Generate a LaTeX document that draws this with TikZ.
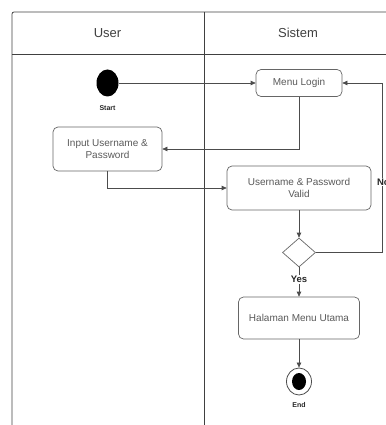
\documentclass[tikz,border=0pt]{standalone}
\usepackage{fontspec}
\setmainfont{Liberation Sans}
\usetikzlibrary{arrows.meta,shapes.geometric}
\begin{document}
\begin{tikzpicture}[x=1pt,y=-1pt,
  lane/.style={draw=black!75, line width=0.8pt},
  head/.style={font=\fontsize{13}{15}\selectfont, text=black!75},
  act/.style={draw=black!60, rounded corners=5pt, line width=0.7pt, align=center,
    font=\fontsize{10}{12.5}\selectfont, text=black!65, inner sep=0pt},
  flow/.style={draw=black!70, line width=0.7pt, -{Triangle[length=5pt,width=4.5pt]}},
  tag/.style={font=\bfseries\fontsize{7}{8}\selectfont, text=black!85, inner sep=0.5pt},
  guard/.style={font=\bfseries\fontsize{9.5}{11}\selectfont, text=black!85, fill=white, inner sep=0.8pt}
]
\useasboundingbox (0,0) rectangle (385,425);

% swimlane frame
\draw[lane, rounded corners=2pt] (12,425) -- (12,12) -- (400,12);
\draw[lane] (12,54) -- (400,54);
\draw[lane] (204,12) -- (204,425);
\node[head] (hUser) at (107.5,33) {User};
\node[head] (hSys) at (298,33) {Sistem};

% initial node
\node[ellipse, fill=black, minimum width=22pt, minimum height=27pt, inner sep=0pt] (start) at (107.5,83) {};
\node[tag] (startlbl) at (107.5,108) {Start};

% activities
\node[act, minimum width=86pt, minimum height=27pt] (login) at (299,83) {Menu Login};
\node[act, minimum width=109pt, minimum height=44pt] (input) at (107.5,149) {Input Username \&\\Password};
\node[act, minimum width=144pt, minimum height=44pt] (valid) at (299,188) {Username \& Password\\Valid};
\node[diamond, draw=black!60, line width=0.7pt, minimum width=33pt, minimum height=29pt, inner sep=0pt] (dec) at (299,252.5) {};
\node[act, minimum width=121pt, minimum height=42pt] (main) at (299,318) {Halaman Menu Utama};

% final node
\node[ellipse, draw=black!70, line width=0.8pt, minimum width=25pt, minimum height=27pt, inner sep=0pt] (endo) at (299,381.5) {};
\node[ellipse, fill=black, minimum width=14pt, minimum height=17pt, inner sep=0pt] (endi) at (299,381.5) {};
\node[tag] (endlbl) at (299,405) {End};

% control flow
\draw[flow] (start) -- (login);
\draw[flow] (login.south) |- (input.east);
\draw[flow] (input.south) |- (valid.west);
\draw[flow] (valid) -- (dec);
\draw[flow] (dec.east) -- ++(66,0) coordinate (back) |- (login.east);
\draw[flow] (dec) -- (main);
\draw[flow] (main) -- (endo);

% guards
\node[guard] (yes) at (299,279.5) {Yes};
\node[guard, anchor=west] (no) at (376,182) {No};
\end{tikzpicture}
\end{document}
